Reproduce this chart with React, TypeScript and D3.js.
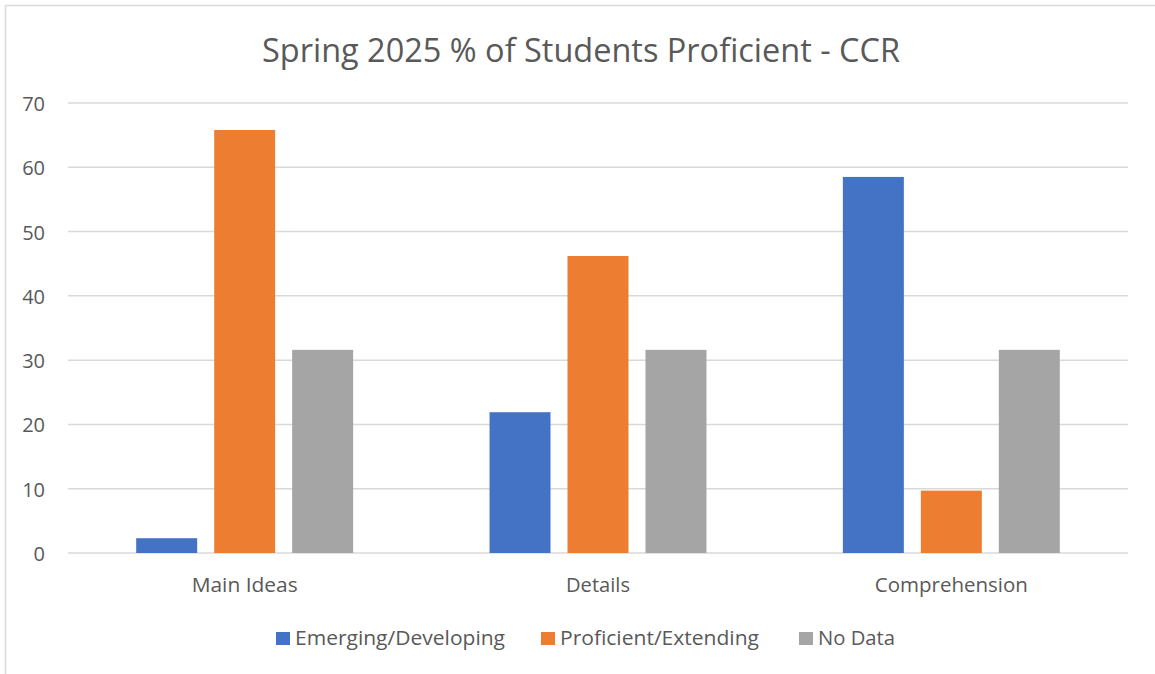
import React from "react";
import * as d3 from "d3";

const categories = ["Main Ideas", "Details", "Comprehension"];
const seriesNames = ["Emerging/Developing", "Proficient/Extending", "No Data"];
const emerging = [2.3, 21.9, 58.5];
const proficient = [65.8, 46.2, 9.7];
const noData = [31.6, 31.6, 31.6];
const yTicks = [0, 10, 20, 30, 40, 50, 60, 70];
const colors = ["#4472C4", "#ED7D31", "#A5A5A5"];

const W = 1155;
const H = 674;
const textColor = "#595959";
const font = "'Open Sans', 'Segoe UI', sans-serif";

const catLabelWidths = [106, 64, 153];
const legendWidths = [210, 199, 77];

export default function App() {
  const series = [emerging, proficient, noData];
  const x0 = d3.scaleBand<string>().domain(categories).range([68, 1128]).padding(0);
  const groupW = x0.bandwidth() * 0.614;
  const x1 = d3
    .scaleBand<string>()
    .domain(seriesNames)
    .range([0, groupW])
    .paddingInner(0.218)
    .paddingOuter(0);
  const y = d3.scaleLinear().domain([0, 70]).range([553, 103]);

  const legendX = [276, 541, 799];

  return (
    <svg
      width={W}
      height={H}
      style={{ position: "absolute", left: 0, top: 0, background: "#fff" }}
      fontFamily={font}
    >
      <rect x={0} y={0} width={W} height={H} fill="#fff" />
      <line x1={5.5} y1={5.5} x2={W} y2={5.5} stroke="#D9D9D9" strokeWidth={1.5} />
      <line x1={5.5} y1={5.5} x2={5.5} y2={H} stroke="#D9D9D9" strokeWidth={1.5} />
      <text
        x={581}
        y={62}
        textAnchor="middle"
        fontSize={33}
        fill={textColor}
        textLength={638}
        lengthAdjust="spacingAndGlyphs"
      >
        Spring 2025 % of Students Proficient - CCR
      </text>
      {yTicks.map((t) => (
        <g key={t}>
          <line x1={68} x2={1128} y1={y(t)} y2={y(t)} stroke="#D9D9D9" strokeWidth={1.5} />
          <text x={45} y={y(t) + 8} textAnchor="end" fontSize={20} fill={textColor}>
            {t}
          </text>
        </g>
      ))}
      {categories.map((c, ci) => {
        const off = (x0(c) ?? 0) + (x0.bandwidth() - groupW) / 2;
        return (
          <g key={c}>
            {series.map((s, si) => (
              <rect
                key={si}
                x={off + (x1(seriesNames[si]) ?? 0)}
                y={y(s[ci])}
                width={x1.bandwidth()}
                height={y(0) - y(s[ci])}
                fill={colors[si]}
              />
            ))}
            <text
              x={(x0(c) ?? 0) + x0.bandwidth() / 2}
              y={592}
              textAnchor="middle"
              fontSize={20.5}
              fill={textColor}
              textLength={catLabelWidths[ci]}
              lengthAdjust="spacingAndGlyphs"
            >
              {c}
            </text>
          </g>
        );
      })}
      {seriesNames.map((n, i) => (
        <g key={n}>
          <rect x={legendX[i]} y={632} width={14} height={13} fill={colors[i]} />
          <text
            x={legendX[i] + 19}
            y={645}
            fontSize={20.5}
            fill={textColor}
            textLength={legendWidths[i]}
            lengthAdjust="spacingAndGlyphs"
          >
            {n}
          </text>
        </g>
      ))}
    </svg>
  );
}
